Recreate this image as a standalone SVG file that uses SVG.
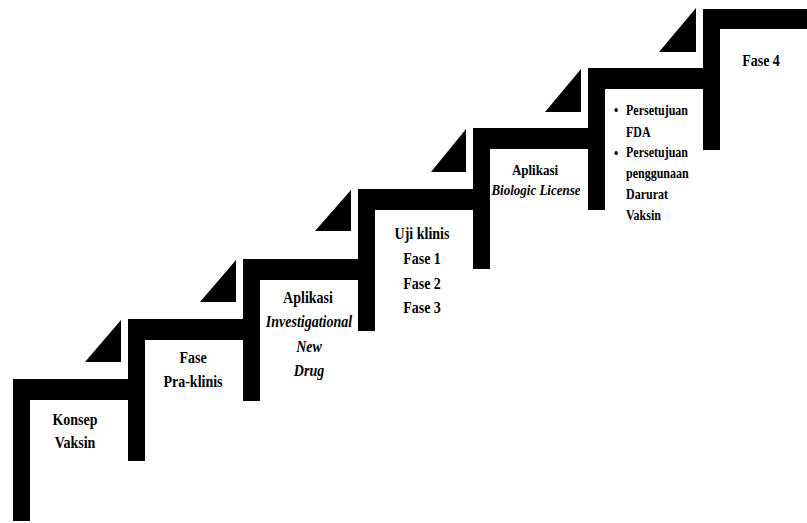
<svg xmlns="http://www.w3.org/2000/svg" width="807" height="523" viewBox="0 0 807 523">
<style>
.stair{fill:#000}
.tri{fill:#000}
.t{font-family:'Liberation Serif','DejaVu Serif',serif;font-weight:bold;font-size:14px;fill:#000;text-anchor:middle}
.i{font-style:italic}
.s13{font-size:13px}
.s12{font-size:12px;text-anchor:start}
</style>
<rect width="807" height="523" fill="#fff"/>
<g id="connectors">
<polygon class="tri" points="121,320 121,362 85,362"/>
<polygon class="tri" points="236,260 236,302 200,302"/>
<polygon class="tri" points="351,190 351,231 315,231"/>
<polygon class="tri" points="466,129 466,172 431,172"/>
<polygon class="tri" points="581,69 581,112 545,112"/>
<polygon class="tri" points="696,8 696,52 659,52"/>
</g>
<g id="step1">
<polygon class="stair" points="13,379 129,379 129,400 30,400 30,521 13,521"/>
<text class="t" transform="translate(75,425) scale(1,1.2)">Konsep</text>
<text class="t" transform="translate(75,448) scale(1,1.2)">Vaksin</text>
</g>
<g id="step2">
<polygon class="stair" points="128,319 244,319 244,340 145,340 145,461 128,461"/>
<text class="t" transform="translate(193,363) scale(1,1.2)">Fase</text>
<text class="t" transform="translate(193,387) scale(1,1.2)">Pra-klinis</text>
</g>
<g id="step3">
<polygon class="stair" points="243,259 359,259 359,280 260,280 260,401 243,401"/>
<text class="t" transform="translate(308,303) scale(1,1.2)">Aplikasi</text>
<text class="t i" transform="translate(309,327) scale(1,1.2)">Investigational</text>
<text class="t i" transform="translate(309,352) scale(1,1.2)">New</text>
<text class="t i" transform="translate(309,376) scale(1,1.2)">Drug</text>
</g>
<g id="step4">
<polygon class="stair" points="358,189 474,189 474,210 375,210 375,331 358,331"/>
<text class="t" transform="translate(422,239) scale(1,1.2)">Uji klinis</text>
<text class="t" transform="translate(422,264) scale(1,1.2)">Fase 1</text>
<text class="t" transform="translate(422,289) scale(1,1.2)">Fase 2</text>
<text class="t" transform="translate(422,313) scale(1,1.2)">Fase 3</text>
</g>
<g id="step5">
<polygon class="stair" points="473,128 589,128 589,149 490,149 490,269 473,269"/>
<text class="t s13" transform="translate(535,175) scale(1,1.2)">Aplikasi</text>
<text class="t s13 i" transform="translate(536,195) scale(1,1.2)">Biologic License</text>
</g>
<g id="step6">
<polygon class="stair" points="588,68 704,68 704,89 605,89 605,210 588,210"/>
<text class="t s12" transform="translate(614,115) scale(1,1.2)">•</text>
<text class="t s12" transform="translate(626,115) scale(1,1.2)">Persetujuan</text>
<text class="t s12" transform="translate(626,137) scale(1,1.2)">FDA</text>
<text class="t s12" transform="translate(614,158) scale(1,1.2)">•</text>
<text class="t s12" transform="translate(626,157) scale(1,1.2)">Persetujuan</text>
<text class="t s12" transform="translate(626,178) scale(1,1.2)">penggunaan</text>
<text class="t s12" transform="translate(626,199) scale(1,1.2)">Darurat</text>
<text class="t s12" transform="translate(626,220) scale(1,1.2)">Vaksin</text>
</g>
<g id="step7">
<polygon class="stair" points="703,9 807,9 807,29 720,29 720,150 703,150"/>
<text class="t" transform="translate(761,66) scale(1,1.2)">Fase 4</text>
</g>
</svg>
